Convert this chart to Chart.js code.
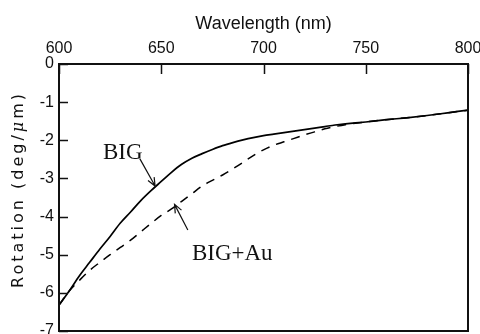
<!DOCTYPE html>
<html>
<head>
<meta charset="utf-8">
<script src="https://cdn.jsdelivr.net/npm/chart.js@4"></script>
<style>
  body { margin: 0; background: #fff; }
</style>
</head>
<body>
<canvas id="myChart" width="480" height="334"></canvas>
<script>
  // wavelength (nm) and rotation (deg/um)
  const wavelengths = [600, 605, 610, 615, 620, 625, 630, 635, 640, 645, 650, 655, 660, 665, 670, 675,
    680, 685, 690, 695, 700, 705, 710, 715, 720, 725, 730, 735, 740, 750, 760, 770, 780, 790, 800];
  const big = [-6.32, -5.95, -5.55, -5.20, -4.85, -4.52, -4.17, -3.88, -3.58, -3.32, -3.08, -2.84, -2.63, -2.47,
    -2.35, -2.24, -2.14, -2.06, -1.99, -1.93, -1.88, -1.84, -1.80, -1.76, -1.72, -1.68, -1.64, -1.60, -1.57,
    -1.52, -1.46, -1.41, -1.35, -1.28, -1.21];
  const bigAu = [-6.32, -5.95, -5.67, -5.41, -5.20, -5.00, -4.81, -4.62, -4.40, -4.18, -3.97, -3.80, -3.60, -3.40,
    -3.20, -3.05, -2.91, -2.75, -2.58, -2.40, -2.25, -2.13, -2.04, -1.95, -1.86, -1.78, -1.70, -1.64, -1.59,
    -1.52, -1.46, -1.41, -1.35, -1.28, -1.21];
  const xTicks = [600, 650, 700, 750, 800];
  const yTicks = [0, -1, -2, -3, -4, -5, -6, -7];

  // labels with arrows, in data units
  const notes = [
    { text: 'BIG', x: 621.5, y: -2.5, from: [639.5, -2.48], to: [647, -3.2] },
    { text: 'BIG+Au', x: 665, y: -5.15, from: [663, -4.35], to: [656.5, -3.68] }
  ];

  const sans = '"Liberation Sans", Arial, sans-serif';

  const toPoints = (ys) => wavelengths.map((x, i) => ({ x: x, y: ys[i] }));

  const frameAndNotes = {
    id: 'frameAndNotes',
    afterDraw(chart) {
      const ctx = chart.ctx;
      const a = chart.chartArea;
      const xs = chart.scales.x;
      const ys = chart.scales.y;
      ctx.save();
      ctx.strokeStyle = '#111';
      ctx.lineWidth = 2;
      ctx.strokeRect(a.left, a.top, a.right - a.left, a.bottom - a.top);

      // inward ticks
      ctx.lineWidth = 1.5;
      ctx.beginPath();
      xTicks.forEach(v => {
        const px = Math.round(xs.getPixelForValue(v)) + 0.5;
        ctx.moveTo(px, a.top);
        ctx.lineTo(px, a.top + 10);
      });
      yTicks.forEach(v => {
        const py = Math.round(ys.getPixelForValue(v)) + 0.5;
        ctx.moveTo(a.left, py);
        ctx.lineTo(a.left + 9, py);
      });
      ctx.stroke();

      // annotations
      ctx.fillStyle = '#111';
      ctx.font = '23px "Liberation Serif", "DejaVu Serif", serif';
      ctx.textBaseline = 'alphabetic';
      ctx.textAlign = 'left';
      ctx.lineWidth = 1.2;
      notes.forEach(n => {
        ctx.fillText(n.text, xs.getPixelForValue(n.x), ys.getPixelForValue(n.y));
        const x1 = xs.getPixelForValue(n.from[0]), y1 = ys.getPixelForValue(n.from[1]);
        const x2 = xs.getPixelForValue(n.to[0]), y2 = ys.getPixelForValue(n.to[1]);
        const ang = Math.atan2(y2 - y1, x2 - x1);
        ctx.beginPath();
        ctx.moveTo(x1, y1);
        ctx.lineTo(x2, y2);
        ctx.moveTo(x2 - 9 * Math.cos(ang - 0.4), y2 - 9 * Math.sin(ang - 0.4));
        ctx.lineTo(x2, y2);
        ctx.lineTo(x2 - 9 * Math.cos(ang + 0.4), y2 - 9 * Math.sin(ang + 0.4));
        ctx.stroke();
      });

      // y axis title, drawn by hand for the letter spacing and italic mu
      const cy = (a.top + a.bottom) / 2 - 8;
      ctx.translate(19, cy);
      ctx.rotate(-Math.PI / 2);
      ctx.textBaseline = 'middle';
      ctx.letterSpacing = '3px';
      const parts = [
        ['Rotation (deg/', '16px "DejaVu Sans", sans-serif'],
        ['\u03bc', 'italic 16px "DejaVu Serif", serif'],
        ['m)', '16px "DejaVu Sans", sans-serif']
      ];
      let total = 0;
      parts.forEach(p => { ctx.font = p[1]; total += ctx.measureText(p[0]).width; });
      let tx = -total / 2;
      parts.forEach(p => {
        ctx.font = p[1];
        ctx.fillText(p[0], tx, 0);
        tx += ctx.measureText(p[0]).width;
      });
      ctx.restore();
    }
  };

  // config
  const config = {
    type: 'line',
    data: {
      datasets: [{
        label: 'BIG',
        data: toPoints(big),
        borderColor: '#000',
        borderWidth: 1.7,
        pointRadius: 0,
        cubicInterpolationMode: 'monotone'
      }, {
        label: 'BIG+Au',
        data: toPoints(bigAu),
        borderColor: '#000',
        borderWidth: 1.5,
        borderDash: [9, 7],
        pointRadius: 0,
        cubicInterpolationMode: 'monotone'
      }]
    },
    options: {
      responsive: false,
      animation: false,
      layout: { padding: { top: 0, left: 0, right: 12, bottom: 3 } },
      scales: {
        x: {
          type: 'linear',
          position: 'top',
          min: 600,
          max: 800,
          grid: { display: false, drawTicks: false },
          border: { display: false },
          ticks: {
            stepSize: 50,
            padding: 6,
            color: '#111',
            font: { family: sans, size: 16 }
          },
          title: {
            display: true,
            text: 'Wavelength (nm)',
            color: '#111',
            padding: { top: 13, bottom: 0 },
            font: { family: sans, size: 18 }
          },
          afterFit(scale) {
            scale.height = 64;
            scale.paddingLeft = 0;
            scale.paddingRight = 0;
          }
        },
        y: {
          min: -7,
          max: 0,
          grid: { display: false, drawTicks: false },
          border: { display: false },
          ticks: {
            stepSize: 1,
            padding: 5,
            color: '#111',
            font: { family: sans, size: 16 }
          },
          afterFit(scale) {
            scale.width = 59;
            scale.paddingTop = 0;
            scale.paddingBottom = 0;
          }
        }
      },
      plugins: {
        legend: { display: false },
        tooltip: { enabled: false }
      }
    },
    plugins: [frameAndNotes]
  };

  const myChart = new Chart(document.getElementById('myChart'), config);
</script>
</body>
</html>
